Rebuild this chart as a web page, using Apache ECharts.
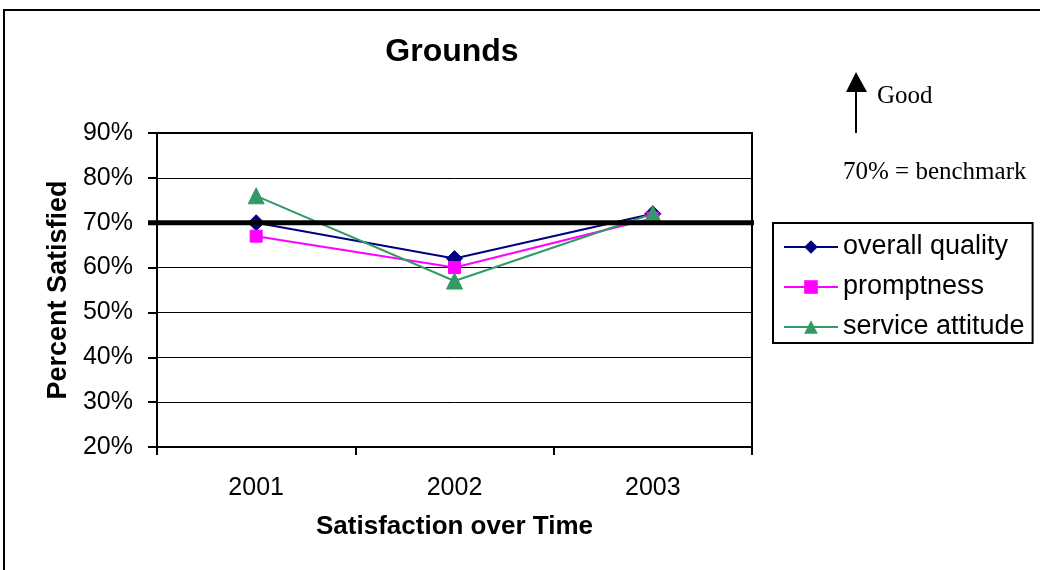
<!DOCTYPE html>
<html>
<head>
<meta charset="utf-8">
<script src="https://cdn.jsdelivr.net/npm/echarts@6/dist/echarts.min.js"></script>
<style>
  html, body { margin: 0; padding: 0; background: #fff; }
  #chart { width: 1040px; height: 570px; }
</style>
</head>
<body>
<div id="chart"></div>
<script>
// Survey results: share of respondents satisfied with grounds services
const years = ['2001', '2002', '2003'];
const overallQuality = [70, 62, 72];
const promptness = [67, 60, 71];
const serviceAttitude = [76, 57, 72];
const seriesNames = ['overall quality', 'promptness', 'service attitude'];
const benchmark = 70;          // target level, drawn as a heavy rule
const yMin = 20, yMax = 90, yStep = 10;

const SANS = '"Liberation Sans", Arial, sans-serif';
const SERIF = '"Liberation Serif", "Times New Roman", serif';
const GRID = { left: 157, top: 133, width: 595, height: 314 };

const chart = echarts.init(document.getElementById('chart'), null, { renderer: 'canvas' });

const lineSeries = (name, data, color, symbol, size) => ({
  name, type: 'line', data,
  symbol, symbolSize: size, showSymbol: true,
  itemStyle: { color, borderColor: color },
  lineStyle: { color, width: 2 },
  emphasis: { disabled: true }
});

chart.setOption({
  animation: false,
  backgroundColor: '#fff',
  grid: {
    left: GRID.left, top: GRID.top, width: GRID.width, height: GRID.height,
    show: true, borderColor: '#000', borderWidth: 2, backgroundColor: '#fff',
    containLabel: false, outerBoundsMode: 'none'
  },
  xAxis: {
    type: 'category', data: years, boundaryGap: true,
    axisLine: { show: true, lineStyle: { color: '#000', width: 2 } },
    axisTick: { show: true, length: 8, alignWithLabel: false, lineStyle: { color: '#000', width: 2 } },
    axisLabel: { color: '#000', fontFamily: SANS, fontSize: 25, margin: 29 },
    splitLine: { show: false },
    name: 'Satisfaction over Time', nameLocation: 'middle', nameGap: 67,
    nameTextStyle: { color: '#000', fontFamily: SANS, fontSize: 26, fontWeight: 'bold' }
  },
  yAxis: {
    type: 'value', min: yMin, max: yMax, interval: yStep,
    axisLine: { show: true, lineStyle: { color: '#000', width: 2 } },
    axisTick: { show: true, length: 9, lineStyle: { color: '#000', width: 2 } },
    axisLabel: { color: '#000', fontFamily: SANS, fontSize: 25, margin: 24, formatter: '{value}%', padding: [10, 0, 0, 0] },
    splitLine: { show: true, lineStyle: { color: '#000', width: 1 } },
    name: 'Percent Satisfied', nameLocation: 'middle', nameGap: 82, nameRotate: 90,
    nameTextStyle: { color: '#000', fontFamily: SANS, fontSize: 27, fontWeight: 'bold' }
  },
  legend: {
    orient: 'vertical', left: 773, top: 223,
    padding: [9, 8, 1, 10], itemWidth: 54, itemHeight: 17, itemGap: 10,
    borderColor: '#000', borderWidth: 2, backgroundColor: '#fff',
    textStyle: { color: '#000', fontFamily: SANS, fontSize: 27, lineHeight: 30 },
    data: seriesNames, selectedMode: false
  },
  series: [
    lineSeries(seriesNames[0], overallQuality, '#000080', 'diamond', 16),
    lineSeries(seriesNames[1], promptness, '#FF00FF', 'rect', 12),
    lineSeries(seriesNames[2], serviceAttitude, '#339966', 'triangle', 16)
  ]
});

// Benchmark rule and side notes, placed from the axis scale
const yBench = chart.convertToPixel({ yAxisIndex: 0 }, benchmark);
const gridRight = GRID.left + GRID.width;

chart.setOption({
  graphic: [
    { type: 'rect', z: 1, silent: true,
      shape: { x: 4, y: 10, width: 1100, height: 700 },
      style: { fill: 'none', stroke: '#000', lineWidth: 2 } },
    { type: 'text', z: 10, x: 452, y: 52,
      style: { text: 'Grounds', fontFamily: SANS, fontSize: 32, fontWeight: 'bold', fill: '#000', align: 'center', verticalAlign: 'middle' } },
    { type: 'line', z: 100, silent: true,
      shape: { x1: GRID.left - 9, y1: yBench, x2: gridRight + 2, y2: yBench },
      style: { stroke: '#000', lineWidth: 5 } },
    { type: 'line', z: 10, silent: true,
      shape: { x1: 856, y1: 90, x2: 856, y2: 133 },
      style: { stroke: '#000', lineWidth: 2 } },
    { type: 'polygon', z: 10, silent: true,
      shape: { points: [[856, 72], [846, 92], [867, 92]] },
      style: { fill: '#000' } },
    { type: 'text', z: 10, x: 877, y: 96,
      style: { text: 'Good', fontFamily: SERIF, fontSize: 25, fill: '#000', align: 'left', verticalAlign: 'middle' } },
    { type: 'text', z: 10, x: 843, y: 172,
      style: { text: benchmark + '% = benchmark', fontFamily: SERIF, fontSize: 25, fill: '#000', align: 'left', verticalAlign: 'middle' } }
  ]
});
</script>
</body>
</html>
